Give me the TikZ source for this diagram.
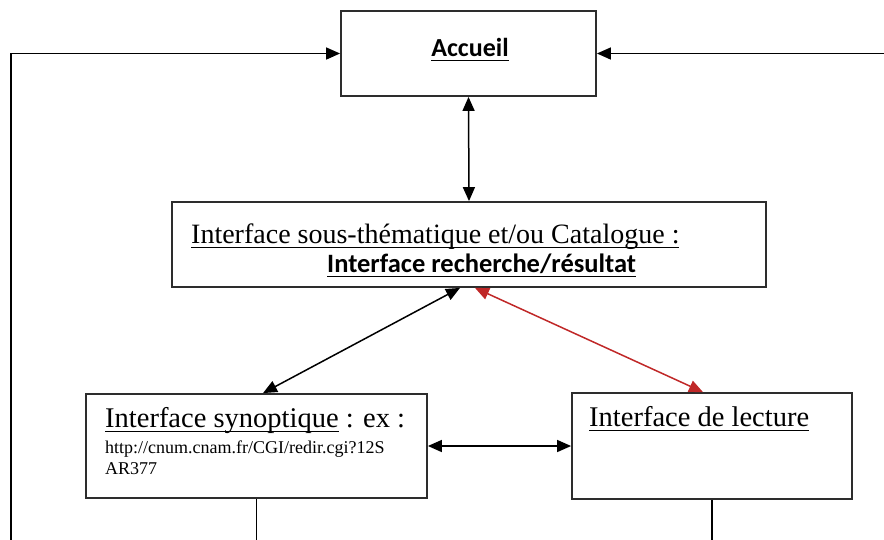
\documentclass[tikz,border=0pt]{standalone}
\usepackage{fontspec}
\setmainfont{Liberation Serif}
\newfontfamily\calibrifont{Carlito}
\newcommand{\uln}[1]{\setbox0=\hbox{#1}\rlap{\rule[-5.2pt]{\wd0}{1.6pt}}\box0}
\usetikzlibrary{arrows.meta, positioning}
\definecolor{linkred}{RGB}{192,40,40}
\definecolor{edgegray}{RGB}{45,45,45}

\begin{document}
\begin{tikzpicture}[x=1pt, y=-1pt,
    frame/.style={draw=edgegray, line width=1.8pt, inner sep=0pt},
    link/.style={line width=1.5pt, -{Triangle[length=14pt,width=12pt]}},
    dlink/.style={line width=1.5pt, {Triangle[length=14pt,width=12pt]}-{Triangle[length=14pt,width=12pt]}},
    lbl/.style={inner sep=0pt, anchor=base west}]
  \useasboundingbox (0,0) rectangle (884,539);

  \node (accueil) [frame, minimum width=255pt, minimum height=85pt] at (468.5,53.5) {};
  \node (catalogue) [frame, minimum width=594pt, minimum height=85pt] at (469,244.5) {};
  \node (synoptique) [frame, minimum width=341pt, minimum height=104pt] at (256.5,446) {};
  \node (lecture) [frame, minimum width=280pt, minimum height=106pt] at (712,446) {};

  \node (accueiltxt) [inner sep=0pt, anchor=base] at (470,56) {\calibrifont\fontsize{26}{30}\selectfont\bfseries\uln{Accueil}};
  \node (cattxt) [lbl] at (191,243) {\fontsize{28}{30}\selectfont\uln{Interface sous-thématique et/ou Catalogue :}};
  \node (rechtxt) [lbl] at (327,272) {\calibrifont\fontsize{26.5}{30}\selectfont\bfseries\uln{Interface recherche/résultat}};
  \node (syntxt) [lbl] at (105,427) {\fontsize{28.5}{32}\selectfont\uln{Interface synoptique}\ : ex :};
  \node (urltxt) [lbl] at (105,453) {\fontsize{18}{21}\selectfont http://cnum.cnam.fr/CGI/redir.cgi?12S};
  \node (urltxt2) [lbl] at (105,474) {\fontsize{18}{21}\selectfont AR377};
  \node (lectxt) [lbl] at (589,426) {\fontsize{28.5}{32}\selectfont\uln{Interface de lecture}};

  \coordinate (bottom) at (0,540);
  \coordinate (leftend) at (11,540);
  \coordinate (rightend) at (884,53.5);

  \draw[link] (leftend) |- (accueil.west);
  \draw[link] (rightend) -- (accueil.east);
  \draw[dlink] (accueil.south) -- (catalogue.north);
  \draw[dlink] ([xshift=-9pt]catalogue.south) -- ([xshift=6.5pt]synoptique.north);
  \draw[dlink, linkred] ([xshift=6pt]catalogue.south) -- ([xshift=-9pt]lecture.north);
  \draw[dlink] (synoptique.east) -- (lecture.west);
  \draw[line width=1.5pt] (synoptique.south) -- (synoptique.south |- bottom);
  \draw[line width=1.5pt] (lecture.south) -- (lecture.south |- bottom);
\end{tikzpicture}
\end{document}
